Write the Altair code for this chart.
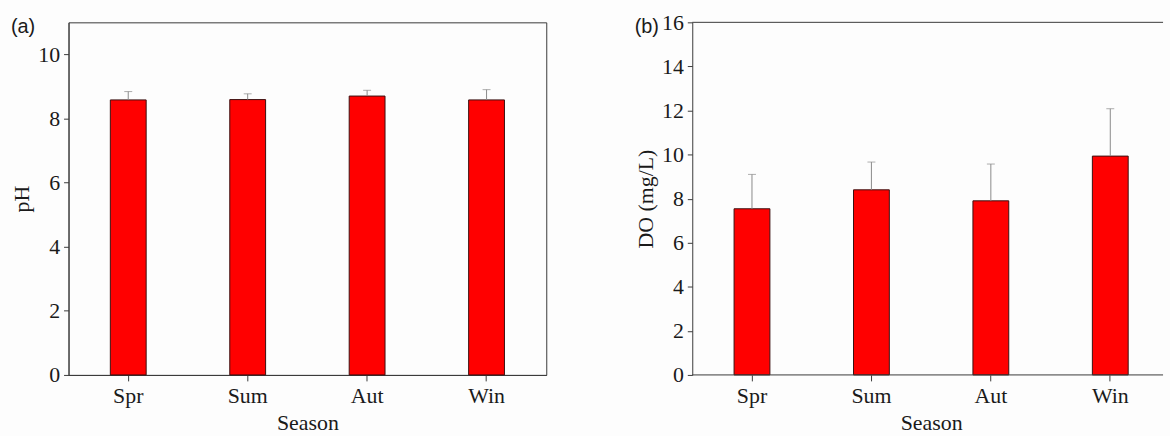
import altair as alt
import pandas as pd

# ---- data ----
seasons = ["Spr", "Sum", "Aut", "Win"]
ph_mean = [8.58, 8.59, 8.70, 8.58]
ph_sd = [0.26, 0.18, 0.18, 0.32]
do_mean = [7.54, 8.40, 7.90, 9.93]
do_sd = [1.56, 1.26, 1.67, 2.15]

SERIF = "Liberation Serif"
SANS = "Liberation Sans"
FRAME = "#3a3a3a"
TEXT = "#1a1a1a"
ERR = "#8a8a8a"
H = 355


def panel(mean, sd, label, ytitle, ydomain, yvalues, width, xrange=None, open_right=False):
    df = pd.DataFrame({
        "season": seasons,
        "mean": mean,
        "upper": [m + s for m, s in zip(mean, sd)],
    })
    if xrange is None:
        xscale = alt.Scale(domain=seasons, paddingInner=0, paddingOuter=0)
    else:
        xscale = alt.Scale(domain=seasons, paddingInner=0, paddingOuter=0, range=xrange)
    xaxis = alt.Axis(labelAngle=0, labelAlign="center", labelBaseline="top",
                     domain=not open_right, tickSize=6, labelPadding=5,
                     titlePadding=6, domainColor=FRAME, tickColor=FRAME)
    x = alt.X("season:N", sort=seasons, scale=xscale, title="Season", axis=xaxis)
    yscale = alt.Scale(domain=ydomain, nice=False, zero=True)
    yaxis = alt.Axis(values=yvalues, tickSize=5, labelPadding=4, titlePadding=4,
                     domainColor=FRAME, tickColor=FRAME, format="d")
    y = alt.Y("mean:Q", scale=yscale, axis=yaxis, title=ytitle)
    base = alt.Chart(df)
    bars = base.mark_bar(width=alt.RelativeBandSize(0.3), color="#ff0000",
                         stroke="#3a1010", strokeWidth=1).encode(x=x, y=y)
    err = base.mark_rule(color=ERR, strokeWidth=1).encode(x=x, y=y, y2="upper:Q")
    cap = base.mark_tick(color=ERR, thickness=1, size=8).encode(
        x=x, y=alt.Y("upper:Q", scale=yscale, axis=yaxis, title=ytitle))
    lab = alt.Chart(pd.DataFrame({"t": [label]})).mark_text(
        align="left", baseline="top", font=SANS, fontSize=20, color=TEXT).encode(
        x=alt.value(-58), y=alt.value(-5), text="t:N")
    layers = [bars, err, cap, lab]
    if open_right:
        lines = pd.DataFrame({"k": [0]})
        top = alt.Chart(lines).mark_rule(color=FRAME, strokeWidth=1).encode(
            x=alt.value(0), x2=alt.value(width), y=alt.value(0))
        bottom = alt.Chart(lines).mark_rule(color=FRAME, strokeWidth=1).encode(
            x=alt.value(0), x2=alt.value(width), y=alt.value(H))
        layers += [top, bottom]
        view = alt.ViewBackground(strokeOpacity=0)
    else:
        view = alt.ViewBackground(stroke=FRAME, strokeWidth=1)
    return alt.layer(*layers).properties(width=width, height=H, view=view)


pa = panel(ph_mean, ph_sd, "(a)", "pH", [0, 11], [0, 2, 4, 6, 8, 10], 481)
pb = panel(do_mean, do_sd, "(b)", "DO (mg/L)", [0, 16], [0, 2, 4, 6, 8, 10, 12, 14, 16],
           474, xrange=[0, 481], open_right=True)

chart = alt.hconcat(pa, pb, spacing=147, bounds="flush").properties(
    padding={"left": 10, "top": 10, "right": 0, "bottom": 0},
    background="#fdfdfd",
).configure_axis(
    grid=False,
    labelFont=SERIF, labelFontSize=22, labelColor=TEXT,
    titleFont=SERIF, titleFontSize=22, titleFontWeight="normal", titleColor=TEXT,
)

chart.save("out.html", embed_options={"renderer": "svg", "actions": False})
